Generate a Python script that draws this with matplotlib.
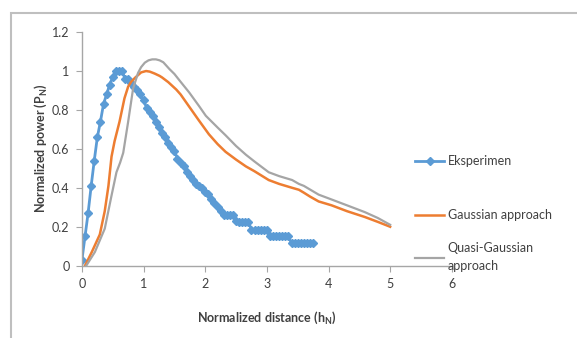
import matplotlib
matplotlib.use("Agg")
from matplotlib import pyplot as plt
from matplotlib.patches import Rectangle

plt.rcParams['font.family'] = ['Lato', 'DejaVu Sans']
plt.rcParams['mathtext.fontset'] = 'custom'
plt.rcParams['mathtext.rm'] = 'Lato:bold'
plt.rcParams['mathtext.it'] = 'Lato:bold'
plt.rcParams['mathtext.bf'] = 'Lato:bold'

# measured (Eksperimen)
exp_x = [0.00, 0.05, 0.10, 0.15, 0.20, 0.25, 0.30, 0.35, 0.40, 0.45,
         0.50, 0.55, 0.60, 0.65, 0.70, 0.75, 0.80, 0.85, 0.90, 0.95,
         1.00, 1.05, 1.10, 1.15, 1.20, 1.25, 1.30, 1.35, 1.40, 1.45,
         1.50, 1.55, 1.60, 1.65, 1.70, 1.75, 1.80, 1.85, 1.90, 1.95,
         2.00, 2.05, 2.10, 2.15, 2.20, 2.25, 2.30, 2.35, 2.40, 2.45,
         2.50, 2.55, 2.60, 2.65, 2.70, 2.75, 2.80, 2.85, 2.90, 2.95,
         3.00, 3.05, 3.10, 3.15, 3.20, 3.25, 3.30, 3.35, 3.40, 3.45,
         3.50, 3.55, 3.60, 3.65, 3.70, 3.75]
exp_y = [0.03, 0.15, 0.27, 0.41, 0.54, 0.66, 0.74, 0.83, 0.88, 0.93,
         0.97, 1.00, 1.00, 1.00, 0.96, 0.96, 0.94, 0.92, 0.90, 0.88,
         0.85, 0.81, 0.79, 0.77, 0.74, 0.71, 0.68, 0.66, 0.63, 0.61,
         0.59, 0.55, 0.53, 0.51, 0.48, 0.46, 0.44, 0.42, 0.41, 0.40,
         0.38, 0.37, 0.34, 0.32, 0.30, 0.28, 0.26, 0.26, 0.26, 0.26,
         0.23, 0.225, 0.225, 0.225, 0.225, 0.185, 0.185, 0.185, 0.185, 0.185,
         0.185, 0.15, 0.15, 0.15, 0.15, 0.15, 0.15, 0.15, 0.115, 0.115,
         0.115, 0.115, 0.115, 0.115, 0.115, 0.115]

# Gaussian approach
gau_x = [0.05, 0.16, 0.29, 0.37, 0.43, 0.48, 0.53, 0.61, 0.69, 0.75,
         0.80, 0.86, 0.96, 1.04, 1.10, 1.18, 1.26, 1.30, 1.40, 1.53,
         1.60, 1.70, 1.80, 1.90, 2.06, 2.20, 2.33, 2.50, 2.66, 2.80,
         3.03, 3.20, 3.41, 3.52, 3.60, 3.70, 3.84, 4.05, 4.30, 4.59,
         4.80, 5.00]
gau_y = [0.0, 0.07, 0.16, 0.28, 0.41, 0.56, 0.64, 0.74, 0.86, 0.92,
         0.945, 0.965, 0.993, 1.0, 0.997, 0.987, 0.975, 0.967, 0.943, 0.905,
         0.88, 0.835, 0.79, 0.745, 0.675, 0.625, 0.585, 0.545, 0.51, 0.485,
         0.44, 0.42, 0.40, 0.39, 0.375, 0.355, 0.33, 0.31, 0.28, 0.25,
         0.225, 0.20]

# Quasi-Gaussian approach
qg_x = [0.07, 0.21, 0.37, 0.48, 0.56, 0.62, 0.67, 0.75, 0.83, 0.91, 0.96,
        1.02, 1.08, 1.14, 1.20, 1.26, 1.32, 1.42, 1.50, 1.60, 1.74,
        1.90, 2.01, 2.20, 2.33, 2.50, 2.66, 2.80, 3.03, 3.20, 3.41,
        3.52, 3.60, 3.84, 4.05, 4.30, 4.59, 4.80, 5.00]
qg_y = [0.0, 0.07, 0.19, 0.36, 0.48, 0.53, 0.58, 0.74, 0.91, 0.99, 1.02,
        1.043, 1.055, 1.06, 1.06, 1.055, 1.045, 1.01, 0.985, 0.945, 0.89,
        0.82, 0.77, 0.71, 0.67, 0.615, 0.57, 0.535, 0.48, 0.46, 0.44,
        0.42, 0.41, 0.365, 0.34, 0.31, 0.275, 0.245, 0.21]

fig = plt.figure(figsize=(5.77, 3.38), dpi=100)
ax = fig.add_axes([0.142, 0.214, 0.641, 0.691])

l1, = ax.plot(exp_x, exp_y, color='#5B9BD5', lw=2.0, marker='D', ms=4.2, label='Eksperimen')
l2, = ax.plot(gau_x, gau_y, color='#ED7D31', lw=1.8, label='Gaussian approach')
l3, = ax.plot(qg_x, qg_y, color='#A5A5A5', lw=1.6, label='Quasi-Gaussian\napproach')

ax.set_xlim(0, 6)
ax.set_ylim(0, 1.2)
ax.set_xticks([0, 1, 2, 3, 4, 5, 6])
ax.set_yticks([0, 0.2, 0.4, 0.6, 0.8, 1.0, 1.2])
ax.set_yticklabels(['0', '0.2', '0.4', '0.6', '0.8', '1', '1.2'])
for s in ['top', 'right']:
    ax.spines[s].set_visible(False)
for s in ['left', 'bottom']:
    ax.spines[s].set_color('#A6A6A6')
    ax.spines[s].set_linewidth(1.0)
ax.tick_params(length=4, color='#A6A6A6', labelsize=9, labelcolor='#404040', pad=5)

ax.set_xlabel('Normalized distance (h$_\\mathrm{N}$)', fontsize=9, fontweight='bold',
              color='#404040', labelpad=14)
ax.set_ylabel('Normalized power (P$_\\mathrm{N}$)', fontsize=9, fontweight='bold',
              color='#404040', labelpad=2)

leg_kw = dict(loc='upper left', frameon=False, fontsize=9, handlelength=2.3,
              handletextpad=0.3, labelcolor='#404040')
leg1 = fig.legend(handles=[l1], bbox_to_anchor=(0.70, 0.574), **leg_kw)
leg2 = fig.legend(handles=[l2, l3], bbox_to_anchor=(0.70, 0.414), labelspacing=1.65,
                  prop={'size': 9, 'family': ['Lato']}, **{k: v for k, v in leg_kw.items() if k != 'fontsize'})
for t in leg2.get_texts():
    t.set_linespacing(1.6)

fig.patches.append(Rectangle((0.019, -0.05), 1.2, 1.0115, transform=fig.transFigure,
                             fill=False, edgecolor='#BFBFBF', lw=1.5))

plt.savefig('out.png', dpi=100)
